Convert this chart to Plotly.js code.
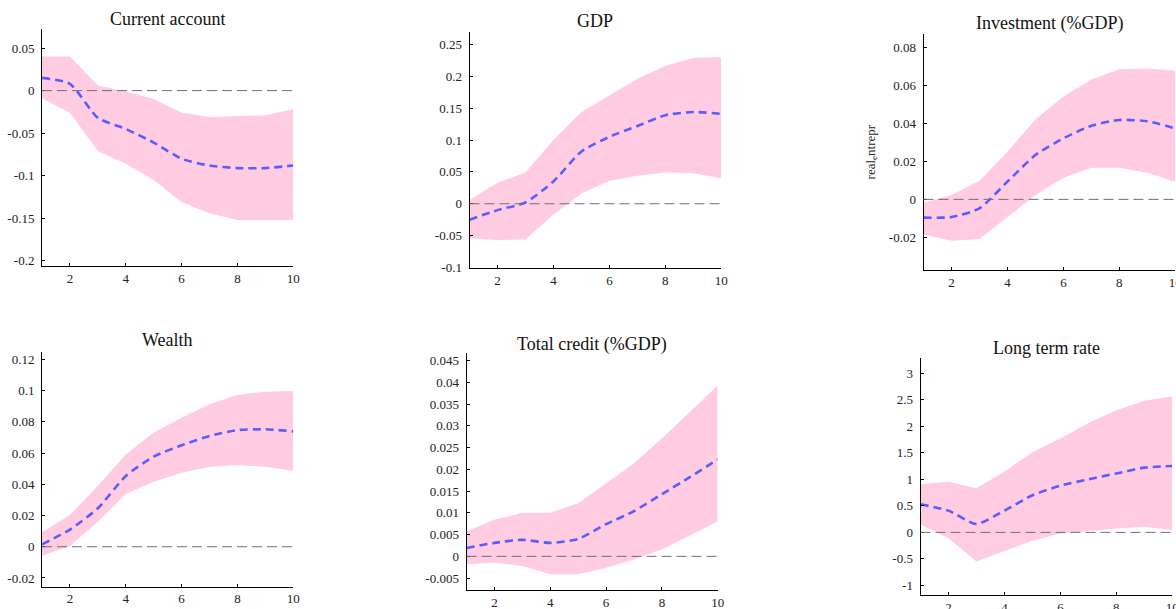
<!DOCTYPE html>
<html>
<head>
<meta charset="utf-8">
<script src="https://cdn.plot.ly/plotly-3.0.1.min.js"></script>
<style>html,body{margin:0;padding:0;background:#fff;}#chart{width:1176px;height:609px;}</style>
</head>
<body>
<div id="chart"></div>
<script>
// ---- data ----
const horizon = [1,2,3,4,5,6,7,8,9,10];
const panelTitles = ["Current account","GDP","Investment (%GDP)","Wealth","Total credit (%GDP)","Long term rate"];

const caMean  = [0.015,0.008,-0.032,-0.045,-0.061,-0.080,-0.088,-0.091,-0.091,-0.088];
const caUpper = [0.040,0.040,0.006,-0.001,-0.010,-0.026,-0.031,-0.030,-0.029,-0.022];
const caLower = [-0.009,-0.026,-0.071,-0.086,-0.105,-0.131,-0.144,-0.152,-0.152,-0.152];

const gdpMean  = [-0.025,-0.010,0.002,0.035,0.082,0.105,0.122,0.139,0.144,0.141];
const gdpUpper = [0.006,0.033,0.049,0.100,0.144,0.170,0.196,0.216,0.229,0.230];
const gdpLower = [-0.054,-0.057,-0.056,-0.017,0.016,0.036,0.044,0.049,0.048,0.040];

const invMean  = [-0.0096,-0.0093,-0.0047,0.0093,0.0233,0.032,0.0387,0.0417,0.041,0.0373];
const invUpper = [-0.0018,0.0023,0.0098,0.025,0.042,0.054,0.063,0.0684,0.0688,0.0676];
const invLower = [-0.0184,-0.0217,-0.0208,-0.0091,0.0023,0.0114,0.0166,0.0166,0.014,0.0093];

const wMean  = [0.0015,0.011,0.0246,0.0453,0.0577,0.065,0.0709,0.0747,0.0752,0.0739];
const wUpper = [0.0092,0.0203,0.039,0.059,0.0732,0.0826,0.0912,0.0972,0.0993,0.0997];
const wLower = [-0.0058,0.0004,0.016,0.0337,0.0416,0.0474,0.0512,0.0523,0.0512,0.0487];

const tcMean  = [0.0019,0.0031,0.0038,0.0031,0.0040,0.0074,0.0104,0.0143,0.0182,0.0223];
const tcUpper = [0.0057,0.0084,0.0100,0.0100,0.0122,0.0168,0.0214,0.0271,0.0333,0.0393];
const tcLower = [-0.0018,-0.0015,-0.0022,-0.0041,-0.0041,-0.0026,-0.0007,0.0016,0.0048,0.0080];

const ltMean  = [0.53,0.41,0.157,0.41,0.70,0.88,1.00,1.11,1.22,1.25];
const ltUpper = [0.906,0.956,0.83,1.145,1.51,1.77,2.06,2.30,2.48,2.56];
const ltLower = [0.15,-0.11,-0.55,-0.36,-0.157,-0.02,0.03,0.075,0.107,0.044];

const xTickVals = [2,4,6,8,10];
const xTickText = ["2","4","6","8","10"];

const caTickVals = [-0.2,-0.15,-0.1,-0.05,0,0.05];
const caTickText = ["-0.2","-0.15","-0.1","-0.05","0","0.05"];
const gdpTickVals = [-0.1,-0.05,0,0.05,0.1,0.15,0.2,0.25];
const gdpTickText = ["-0.1","-0.05","0","0.05","0.1","0.15","0.2","0.25"];
const invTickVals = [-0.02,0,0.02,0.04,0.06,0.08];
const invTickText = ["-0.02","0","0.02","0.04","0.06","0.08"];
const wTickVals = [-0.02,0,0.02,0.04,0.06,0.08,0.1,0.12];
const wTickText = ["-0.02","0","0.02","0.04","0.06","0.08","0.1","0.12"];
const tcTickVals = [-0.005,0,0.005,0.01,0.015,0.02,0.025,0.03,0.035,0.04,0.045];
const tcTickText = ["-0.005","0","0.005","0.01","0.015","0.02","0.025","0.03","0.035","0.04","0.045"];
const ltTickVals = [-1,-0.5,0,0.5,1,1.5,2,2.5,3];
const ltTickText = ["-1","-0.5","0","0.5","1","1.5","2","2.5","3"];

const invYTitle = "real<sub>e</sub>ntrepr";

// ---- layout constants ----
const W = 1176, H = 609;
const FONT = "Liberation Serif";
const bandColor = "rgb(255,204,225)";
const meanColor = "rgb(92,92,255)";

const panels = [
  {mean: caMean, up: caUpper, lo: caLower, tv: caTickVals, tt: caTickText, yr: [-0.206,0.072], box: [42,293.3,29.3,266]},
  {mean: gdpMean, up: gdpUpper, lo: gdpLower, tv: gdpTickVals, tt: gdpTickText, yr: [-0.1013,0.27], box: [469.5,721.3,31.7,268.3]},
  {mean: invMean, up: invUpper, lo: invLower, tv: invTickVals, tt: invTickText, yr: [-0.0371,0.0867], box: [923.5,1175.3,34.3,270], ytitle: invYTitle},
  {mean: wMean, up: wUpper, lo: wLower, tv: wTickVals, tt: wTickText, yr: [-0.0256,0.1249], box: [42,293.3,351.7,586.7]},
  {mean: tcMean, up: tcUpper, lo: tcLower, tv: tcTickVals, tt: tcTickText, yr: [-0.00774,0.0467], box: [466.5,717.7,353.3,590]},
  {mean: ltMean, up: ltUpper, lo: ltLower, tv: ltTickVals, tt: ltTickText, yr: [-1.18,3.28], box: [920.5,1172.3,358.3,595]}
];
const titleY = [19, 20.7, 24, 340, 344, 348];

const traces = [];
const layout = {
  width: W, height: H,
  margin: {l:0, r:0, t:0, b:0},
  paper_bgcolor: "#fff", plot_bgcolor: "rgba(0,0,0,0)",
  showlegend: false,
  font: {family: FONT, size: 12, color: "#222"},
  annotations: [], shapes: []
};

panels.forEach((p, i) => {
  const n = i === 0 ? "" : String(i + 1);
  const xa = "x" + n, ya = "y" + n;
  traces.push({x: horizon, y: p.lo, xaxis: xa, yaxis: ya, type: "scatter", mode: "lines",
    line: {width: 0, color: bandColor}, hoverinfo: "skip"});
  traces.push({x: horizon, y: p.up, xaxis: xa, yaxis: ya, type: "scatter", mode: "lines",
    line: {width: 0, color: bandColor}, fill: "tonexty", fillcolor: bandColor, hoverinfo: "skip"});
  traces.push({x: horizon, y: p.mean, xaxis: xa, yaxis: ya, type: "scatter", mode: "lines",
    line: {width: 2.6, color: meanColor, dash: "8px,5px", shape: "spline", smoothing: 0.6}});

  const [x0, x1, yTop, yBot] = p.box;
  layout["xaxis" + n] = {
    domain: [x0 / W, x1 / W], anchor: ya, range: [1, 10],
    tickvals: xTickVals, ticktext: xTickText, ticks: "inside", ticklen: 3, tickcolor: "#000",
    ticklabeloverflow: "allow",
    showline: true, linecolor: "#000", linewidth: 1, showgrid: false, zeroline: false,
    tickfont: {family: FONT, size: 13, color: "#222"}, fixedrange: true
  };
  layout["yaxis" + n] = {
    domain: [1 - yBot / H, 1 - yTop / H], anchor: xa, range: p.yr,
    tickvals: p.tv, ticktext: p.tt, ticks: "inside", ticklen: 3, tickcolor: "#000",
    ticklabelstandoff: 4,
    showline: true, linecolor: "#000", linewidth: 1, showgrid: false, zeroline: false,
    tickfont: {family: FONT, size: 13, color: "#222"}, fixedrange: true
  };
  if (p.ytitle) {
    layout["yaxis" + n].title = {text: p.ytitle, font: {family: FONT, size: 13, color: "#222"}, standoff: 10};
  }
  layout.shapes.push({type: "line", xref: xa + " domain", yref: ya, x0: 0, x1: 1, y0: 0, y1: 0,
    line: {color: "#707070", width: 1, dash: "10px,5px"}, layer: "above"});
  layout.annotations.push({text: panelTitles[i], xref: "paper", yref: "paper",
    x: ((x0 + x1) / 2) / W, y: 1 - titleY[i] / H, xanchor: "center", yanchor: "middle",
    showarrow: false, font: {family: FONT, size: 18, color: "#111"}});
});

Plotly.newPlot("chart", traces, layout, {displayModeBar: false, staticPlot: true});
</script>
</body>
</html>
